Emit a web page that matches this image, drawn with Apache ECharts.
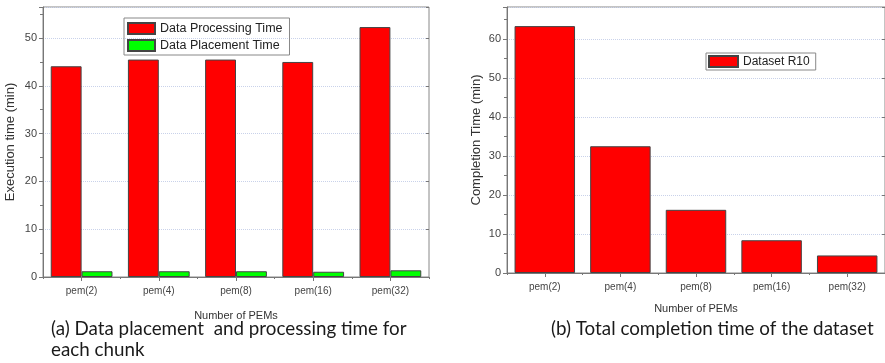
<!DOCTYPE html>
<html>
<head>
<meta charset="utf-8">
<script src="https://cdn.jsdelivr.net/npm/echarts@6/dist/echarts.min.js"></script>
<style>
  html, body { margin: 0; padding: 0; background: #fff; }
  #chart { width: 885px; height: 363px; }
</style>
</head>
<body>
<div id="chart"></div>
<script>
// Datos
const categories = ['pem(2)', 'pem(4)', 'pem(8)', 'pem(16)', 'pem(32)'];
const processingTime = [44.1, 45.5, 45.5, 45.0, 52.3];
const placementTime = [1.2, 1.2, 1.2, 1.1, 1.4];
const completionTime = [63.3, 32.5, 16.2, 8.4, 4.5];
const captionA = '(a) Data placement  and processing time for\neach chunk';
const captionB = '(b) Total completion time of the dataset';

const chart = echarts.init(document.getElementById('chart'));

// Eje de valores principal
function valueAxis(gridIndex, name, max, nameGap) {
    return {
        type: 'value',
        gridIndex: gridIndex,
        min: 0,
        max: max,
        interval: 10,
        name: name,
        nameLocation: 'middle',
        nameGap: nameGap,
        nameTextStyle: { fontFamily: 'Liberation Sans', fontSize: 13, color: '#333' },
        axisLine: { show: true, lineStyle: { color: '#777', width: 1 } },
        axisTick: { show: true, length: 4, lineStyle: { color: '#777' } },
        minorTick: { show: true, splitNumber: 2, length: 3, lineStyle: { color: '#777' } },
        axisLabel: { showMaxLabel: false, fontFamily: 'Liberation Sans', fontSize: 11, color: '#444', margin: 6 },
        splitLine: { show: true, lineStyle: { color: '#c9d2ea', type: 'dotted', width: 1 } }
    };
}

// Eje espejo a la derecha (solo marcas)
function mirrorAxis(gridIndex, max) {
    return {
        type: 'value',
        gridIndex: gridIndex,
        position: 'right',
        min: 0,
        max: max,
        interval: 10,
        axisLine: { show: false },
        axisTick: { show: true, inside: true, length: 3, lineStyle: { color: '#777' } },
        axisLabel: { show: false },
        splitLine: { show: false }
    };
}

function categoryAxis(gridIndex, nameGap) {
    return {
        type: 'category',
        gridIndex: gridIndex,
        data: categories,
        name: 'Number of PEMs',
        nameLocation: 'middle',
        nameGap: nameGap,
        nameTextStyle: { fontFamily: 'Liberation Sans', fontSize: 11, color: '#333' },
        axisLine: { show: true, lineStyle: { color: '#777', width: 1 } },
        axisTick: { show: true, alignWithLabel: true, length: 4, lineStyle: { color: '#777' } },
        axisLabel: { fontFamily: 'Liberation Sans', fontSize: 10, color: '#444', margin: 9 }
    };
}

// Marcas menores entre categorías
function categoryMinorAxis(gridIndex) {
    return {
        type: 'category',
        gridIndex: gridIndex,
        position: 'bottom',
        data: categories,
        axisLine: { show: false },
        axisTick: { show: true, alignWithLabel: false, length: 2, lineStyle: { color: '#777' } },
        axisLabel: { show: false }
    };
}

const barBorder = { borderColor: '#444', borderWidth: 1 };

const captionStyle = { fontFamily: 'Lato', fontWeight: 'normal', fontSize: 18.8, color: '#1a1a1a', lineHeight: 21 };

const option = {
    backgroundColor: '#fff',
    animation: false,
    title: [
        { text: captionA, left: 46, top: 313, textStyle: captionStyle },
        { text: captionB, left: 546, top: 313, textStyle: captionStyle }
    ],
    grid: [
        { left: 43, top: 7, width: 386, height: 270, show: true, borderColor: '#888', borderWidth: 1 },
        { left: 507, top: 7, width: 378, height: 266, show: true, borderColor: '#888', borderWidth: 1 }
    ],
    legend: [
        {
            data: ['Data Processing Time', 'Data Placement Time'],
            orient: 'vertical',
            left: 124,
            top: 18,
            icon: 'rect',
            itemWidth: 27,
            itemHeight: 11,
            itemGap: 4,
            padding: [4, 7, 3, 3],
            borderColor: '#888',
            borderWidth: 1,
            textStyle: { fontFamily: 'Liberation Sans', fontSize: 12.5, color: '#222' }
        },
        {
            data: ['Dataset R10'],
            left: 706,
            top: 53,
            icon: 'rect',
            itemWidth: 29,
            itemHeight: 11,
            padding: [2, 6, 2, 2],
            borderColor: '#888',
            borderWidth: 1,
            textStyle: { fontFamily: 'Liberation Sans', fontSize: 12, color: '#222' }
        }
    ],
    xAxis: [categoryAxis(0, 33), categoryAxis(1, 30), categoryMinorAxis(0), categoryMinorAxis(1)],
    yAxis: [
        valueAxis(0, 'Execution time (min)', 56.5, 26),
        valueAxis(1, 'Completion Time (min)', 68.2, 24),
        mirrorAxis(0, 56.5),
        mirrorAxis(1, 68.2)
    ],
    series: [
        {
            name: 'Data Processing Time',
            type: 'bar',
            xAxisIndex: 0,
            yAxisIndex: 0,
            data: processingTime,
            barGap: '0%',
            barCategoryGap: '20%',
            itemStyle: Object.assign({ color: '#ff0000' }, barBorder)
        },
        {
            name: 'Data Placement Time',
            type: 'bar',
            xAxisIndex: 0,
            yAxisIndex: 0,
            data: placementTime,
            barGap: '0%',
            barCategoryGap: '20%',
            itemStyle: Object.assign({ color: '#00ff00' }, barBorder)
        },
        {
            name: 'Dataset R10',
            type: 'bar',
            xAxisIndex: 1,
            yAxisIndex: 1,
            data: completionTime,
            barCategoryGap: '20%',
            itemStyle: Object.assign({ color: '#ff0000' }, barBorder)
        }
    ]
};

chart.setOption(option);
</script>
</body>
</html>
